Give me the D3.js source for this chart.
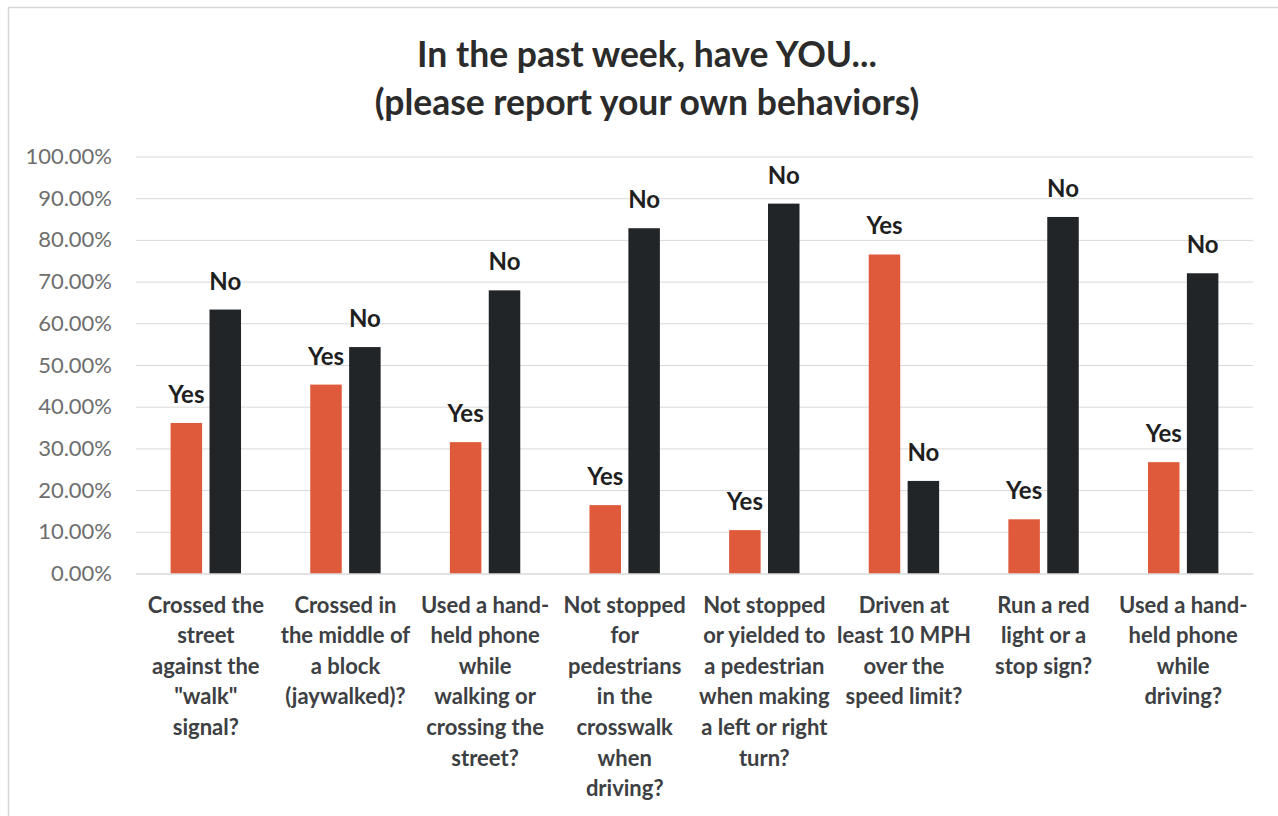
<!DOCTYPE html>
<html>
<head>
<meta charset="utf-8">
<script src="https://cdn.jsdelivr.net/npm/d3@7"></script>
<style>
  html, body { margin: 0; padding: 0; background: #ffffff; }
  svg { display: block; font-family: Lato, "Open Sans", sans-serif; }
</style>
</head>
<body>
<svg id="chart" width="1278" height="816"></svg>
<script>
// Survey questions (each entry is one wrapped category label)
const categories = [
  ["Crossed the", "street", "against the", "\"walk\"", "signal?"],
  ["Crossed in", "the middle of", "a block", "(jaywalked)?"],
  ["Used a hand-", "held phone", "while", "walking or", "crossing the", "street?"],
  ["Not stopped", "for", "pedestrians", "in the", "crosswalk", "when", "driving?"],
  ["Not stopped", "or yielded to", "a pedestrian", "when making", "a left or right", "turn?"],
  ["Driven at", "least 10 MPH", "over the", "speed limit?"],
  ["Run a red", "light or a", "stop sign?"],
  ["Used a hand-", "held phone", "while", "driving?"]
];
const seriesNames = ["Yes", "No"];
// Share of respondents, percent
const yesValues = [36.1, 45.3, 31.5, 16.4, 10.4, 76.5, 13.0, 26.7];
const noValues  = [63.3, 54.3, 67.9, 82.8, 88.7, 22.2, 85.5, 72.0];
const yTicks = [0, 0.1, 0.2, 0.3, 0.4, 0.5, 0.6, 0.7, 0.8, 0.9, 1.0];
const titleLines = ["In the past week, have YOU...", "(please report your own behaviors)"];

const colors = { Yes: "#DE5A3B", No: "#222527" };

const svg = d3.select("#chart");
const W = 1278, H = 816;
const plot = { left: 136, right: 1253, top: 156.5, bottom: 573.5 };

// chart frame
svg.append("rect")
  .attr("x", 8.5).attr("y", 7.5)
  .attr("width", W).attr("height", H)
  .attr("fill", "#ffffff")
  .attr("stroke", "#d6d6d6").attr("stroke-width", 1.5);

// title
svg.append("g").selectAll("text")
  .data(titleLines)
  .join("text")
  .attr("x", 647)
  .attr("y", (d, i) => 67 + i * 48)
  .attr("text-anchor", "middle")
  .attr("font-size", 35.5)
  .attr("font-weight", 700)
  .attr("fill", "#2b2b2b")
  .text(d => d);

const keys = categories.map((c, i) => i);
const x0 = d3.scaleBand().domain(keys).range([plot.left, plot.right]).padding(0);
const x1 = d3.scaleBand().domain(seriesNames).range([0, x0.bandwidth()])
  .paddingInner(0.19).paddingOuter(0.89);
const y = d3.scaleLinear().domain([0, 1]).range([plot.bottom, plot.top]);

// y axis with gridlines
const yAxis = svg.append("g")
  .attr("transform", `translate(${plot.left},0)`)
  .call(d3.axisLeft(y)
    .tickValues(yTicks)
    .tickFormat(d3.format(".2%"))
    .tickSize(-(plot.right - plot.left))
    .tickPadding(24));
yAxis.select(".domain").remove();
yAxis.selectAll(".tick line").attr("stroke", "#d9d9d9").attr("stroke-width", 1);
yAxis.selectAll(".tick text")
  .attr("font-size", 22)
  .attr("font-family", "Lato, sans-serif")
  .attr("fill", "#6e6e6e");

// bars
const rows = keys.map(i => ({ key: i, Yes: yesValues[i] / 100, No: noValues[i] / 100 }));
const groups = svg.append("g").selectAll("g")
  .data(rows)
  .join("g")
  .attr("transform", d => `translate(${x0(d.key)},0)`);

groups.selectAll("rect")
  .data(d => seriesNames.map(s => ({ s, v: d[s] })))
  .join("rect")
  .attr("x", d => x1(d.s))
  .attr("y", d => y(d.v))
  .attr("width", x1.bandwidth())
  .attr("height", d => y(0) - y(d.v))
  .attr("fill", d => colors[d.s]);

// series labels above each bar
groups.selectAll("text")
  .data(d => seriesNames.map(s => ({ s, v: d[s] })))
  .join("text")
  .attr("x", d => x1(d.s) + x1.bandwidth() / 2)
  .attr("y", d => y(d.v) - 20)
  .attr("text-anchor", "middle")
  .attr("font-size", 24)
  .attr("font-weight", 700)
  .attr("fill", "#1f1f1f")
  .text(d => d.s);

// category axis with wrapped labels
const xAxis = svg.append("g")
  .attr("transform", `translate(0,${plot.bottom})`)
  .call(d3.axisBottom(x0).tickSize(0).tickFormat(() => ""));
xAxis.select(".domain").attr("stroke", "#d9d9d9");
xAxis.selectAll(".tick text").each(function (i) {
  const t = d3.select(this)
    .attr("y", 0).attr("dy", null)
    .attr("font-size", 22)
    .attr("font-weight", 700)
    .attr("font-family", "Lato, sans-serif")
    .attr("fill", "#3d4043");
  categories[i].forEach((line, k) => {
    t.append("tspan").attr("x", 0).attr("y", 39 + k * 30.6).text(line);
  });
});
</script>
</body>
</html>
